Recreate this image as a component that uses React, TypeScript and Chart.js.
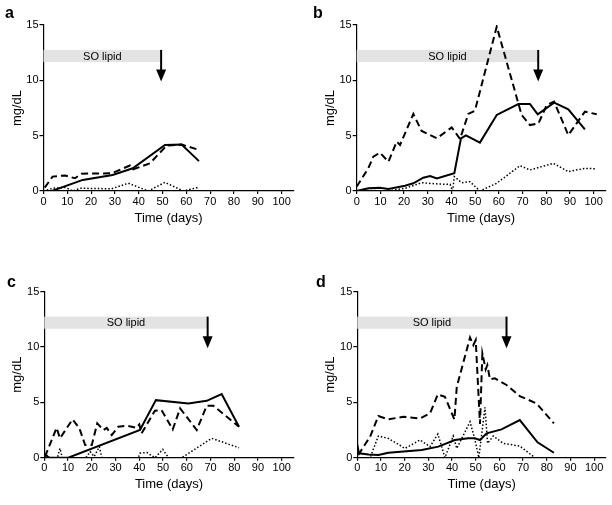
import React, { useEffect, useRef } from "react";
import { Chart, registerables } from "chart.js";

Chart.register(...registerables);

// ---- tick labels / annotations ----
const xTickValues = [0, 10, 20, 30, 40, 50, 60, 70, 80, 90, 100];
const yTickValues = [0, 5, 10, 15];
const panelLetters = ["a", "b", "c", "d"];
const soLipidLabel = "SO lipid";
const soLipidEnd = [49.4, 76.6, 68.8, 63.0];
const xTitle = "Time (days)";
const yTitle = "mg/dL";

// ---- panel a ----
const aSolidX = [0, 3.5, 16.5, 29, 37.5, 51, 58, 65.3];
const aSolidY = [0, 0, 1.0, 1.45, 2.05, 4.16, 4.2, 2.7];
const aDashX = [0.5, 3.8, 9, 13.2, 16, 28.6, 36.3, 37.7, 44.7, 51.7, 58, 65.4];
const aDashY = [0.3, 1.3, 1.4, 1.15, 1.57, 1.6, 2.3, 1.96, 2.5, 4.1, 4.2, 3.7];
const aDotX = [0, 4, 9, 12.5, 15.3, 28.6, 35.6, 44, 51, 58.7, 65];
const aDotY = [0, 0.25, 0.33, 0, 0.25, 0.2, 0.7, 0, 0.78, 0, 0.33];

// ---- panel b ----
const bSolidX = [0, 4.9, 9.8, 13.4, 20.4, 23.9, 28.1, 31, 33.8, 41.2, 44, 46.1, 52, 59.1, 68.2, 73.1, 76.4, 83.3, 89.3, 96.3];
const bSolidY = [0, 0.24, 0.3, 0.18, 0.48, 0.7, 1.2, 1.36, 1.14, 1.6, 4.76, 5.03, 4.37, 6.87, 7.86, 7.86, 6.93, 7.98, 7.38, 5.57];
const bDashX = [0, 4.9, 7, 9.8, 13.4, 16.9, 18.3, 23.9, 27.4, 33.8, 40.1, 43.6, 47.1, 49.9, 59.1, 69.6, 73.1, 76.7, 80.2, 83.3, 89.3, 96.3, 101.3];
const bDashY = [0.4, 2.05, 3.1, 3.46, 2.65, 4.46, 4.16, 6.96, 5.42, 4.76, 5.75, 4.7, 6.96, 7.26, 14.85, 6.87, 5.96, 6.1, 7.77, 8.07, 5.06, 7.17, 6.93];
const bDotX = [0, 6, 13, 20.4, 27.4, 34.5, 39.4, 40.5, 41.2, 44.3, 47.8, 52, 59.1, 68.9, 73.1, 83, 89.3, 96.3, 101.3];
const bDotY = [0, 0.05, 0, 0.24, 0.75, 0.63, 0.6, 0, 1.3, 0.75, 0.84, 0, 0.7, 2.29, 1.9, 2.5, 1.75, 2.05, 2.0];

// ---- panel c ----
const cSolidX = [0.3, 1.7, 10.1, 40.3, 47, 60.7, 68.4, 74.7, 82];
const cSolidY = [0.39, 0, 0, 2.5, 5.2, 4.9, 5.14, 5.75, 2.8];
const cDashX = [0.3, 5.2, 6.6, 11.9, 14.8, 17.2, 20, 22.3, 24.9, 26.3, 28.4, 31.2, 34.7, 38.9, 40, 41, 46.6, 49.4, 54.1, 57.2, 64.2, 68.4, 71.2, 82];
const cDashY = [0.1, 2.7, 1.75, 3.46, 2.65, 1.15, 1.15, 3.1, 2.5, 2.7, 2.05, 2.8, 2.9, 2.7, 3.0, 2.2, 4.25, 4.3, 2.56, 4.46, 2.5, 4.7, 4.7, 2.8];
const cDotX = [0.3, 2.4, 5.5, 6.6, 7.6, 17.5, 19.3, 21, 23.2, 24.2, 39.6, 40.3, 43.1, 46.6, 49.9, 52.3, 57.9, 70.5, 82];
const cDotY = [0.24, 0, 0, 0.84, 0, 0, 0.54, 0.1, 1.0, 0, 0, 0.4, 0.48, 0, 0.75, 0, 0, 1.75, 0.9];

// ---- panel d ----
const dSolidX = [0, 0.7, 4.7, 8.9, 13.1, 27.2, 34.2, 41.2, 46.8, 49.6, 51.8, 54.6, 60.9, 68.6, 76.1, 83];
const dSolidY = [1.15, 0.4, 0.3, 0.24, 0.45, 0.7, 1.0, 1.6, 1.75, 1.75, 1.6, 2.2, 2.56, 3.4, 1.39, 0.45];
const dDashX = [0.4, 5.4, 8.9, 13.1, 19.4, 26.5, 30.7, 34, 37, 41, 42, 47.6, 49, 50, 51.8, 52.8, 54.2, 54.9, 56, 58.1, 63, 68.6, 75.7, 83];
const dDashY = [0.24, 1.9, 3.77, 3.46, 3.7, 3.55, 4.0, 5.72, 5.5, 3.46, 6.4, 10.87, 10.18, 10.63, 3.04, 9.43, 7.98, 8.37, 7.08, 7.17, 6.57, 5.57, 4.9, 3.1];
const dDotX = [0, 5.4, 8.9, 13.1, 20.1, 26.5, 30.7, 34, 37, 40.5, 42, 47.6, 49.7, 51.3, 53.9, 55, 57.4, 61.6, 68.6, 75, 83];
const dDotY = [0, 0, 1.96, 1.75, 0.84, 1.6, 1.0, 2.14, 0, 1.96, 0.84, 3.25, 1.6, 0, 4.55, 1.3, 1.96, 1.3, 1.05, 0, 0];

const seriesX = [
  [aSolidX, aDashX, aDotX],
  [bSolidX, bDashX, bDotX],
  [cSolidX, cDashX, cDotX],
  [dSolidX, dDashX, dDotX],
];
const seriesY = [
  [aSolidY, aDashY, aDotY],
  [bSolidY, bDashY, bDotY],
  [cSolidY, cDashY, cDotY],
  [dSolidY, dDashY, dDotY],
];

const FONT = "'Liberation Sans', Arial, Helvetica, sans-serif";

// layout of each panel (pixels)
const panels = [
  { left: 0, top: 0, w: 306, h: 252, areaL: 43.5, areaT: 25, padR: 12.5, xH: 61, xTitlePad: 26.2, yTitlePad: 9.7, letterX: 5, letterY: 17.7 },
  { left: 306, top: 0, w: 306, h: 252, areaL: 50.7, areaT: 25, padR: 6.5, xH: 61, xTitlePad: 26.2, yTitlePad: 16.2, letterX: 7, letterY: 18 },
  { left: 0, top: 252, w: 306, h: 253, areaL: 44.3, areaT: 39.7, padR: 12.4, xH: 47.3, xTitlePad: 12.5, yTitlePad: 9.7, letterX: 7, letterY: 35 },
  { left: 306, top: 252, w: 306, h: 253, areaL: 51.3, areaT: 39.7, padR: 6, xH: 47.3, xTitlePad: 12.5, yTitlePad: 16.2, letterX: 10, letterY: 35 },
];

const styles = [
  { borderDash: [] as number[], borderWidth: 2 },
  { borderDash: [7, 4], borderWidth: 2 },
  { borderDash: [1.5, 2], borderWidth: 1.5 },
];

function Panel({ idx }: { idx: number }) {
  const ref = useRef<HTMLCanvasElement>(null);
  const p = panels[idx];
  useEffect(() => {
    const canvas = ref.current;
    if (!canvas) return;
    const end = soLipidEnd[idx];
    const annot = {
      id: "soLipid" + idx,
      beforeDatasetsDraw(chart: any) {
        const ctx = chart.ctx;
        const xs = chart.scales.x;
        const ys = chart.scales.y;
        const x0 = xs.getPixelForValue(0);
        const x1 = xs.getPixelForValue(end);
        const yTop = ys.getPixelForValue(12.75);
        const yBot = ys.getPixelForValue(11.65);
        ctx.save();
        ctx.fillStyle = "#e3e3e3";
        ctx.fillRect(x0, yTop, x1 - x0, yBot - yTop);
        ctx.fillStyle = "#000";
        ctx.font = `11px ${FONT}`;
        ctx.textAlign = "center";
        ctx.textBaseline = "middle";
        ctx.fillText(soLipidLabel, (x0 + x1) / 2, (yTop + yBot) / 2 + 0.5);
        // arrow
        const tip = ys.getPixelForValue(9.9);
        ctx.strokeStyle = "#000";
        ctx.lineWidth = 2;
        ctx.beginPath();
        ctx.moveTo(x1, yTop);
        ctx.lineTo(x1, tip - 10);
        ctx.stroke();
        ctx.beginPath();
        ctx.moveTo(x1 - 5, tip - 12);
        ctx.lineTo(x1 + 5, tip - 12);
        ctx.lineTo(x1, tip);
        ctx.closePath();
        ctx.fill();
        ctx.restore();
      },
      afterDraw(chart: any) {
        const ctx = chart.ctx;
        ctx.save();
        ctx.fillStyle = "#000";
        ctx.font = `bold 16px ${FONT}`;
        ctx.textAlign = "left";
        ctx.textBaseline = "alphabetic";
        ctx.fillText(panelLetters[idx], p.letterX, p.letterY);
        ctx.restore();
      },
    };
    const datasets = seriesX[idx].map((xs, k) => ({
      data: xs.map((x, i) => ({ x, y: seriesY[idx][k][i] })),
      borderColor: "#000",
      backgroundColor: "#000",
      borderWidth: styles[k].borderWidth,
      borderDash: styles[k].borderDash,
      pointRadius: 0,
      tension: 0,
      fill: false,
      borderJoinStyle: "miter" as const,
    }));
    const chart = new Chart(canvas, {
      type: "line",
      data: { datasets },
      plugins: [annot],
      options: {
        animation: false,
        responsive: false,
        devicePixelRatio: 1,
        layout: { padding: { left: 0, top: p.areaT, right: p.padR, bottom: 0 } },
        plugins: { legend: { display: false }, tooltip: { enabled: false } },
        scales: {
          x: {
            type: "linear",
            min: 0,
            max: 105,
            afterBuildTicks: (s: any) => {
              s.ticks = xTickValues.map((v) => ({ value: v }));
            },
            afterFit: (s: any) => {
              s.height = p.xH;
            },
            ticks: { autoSkip: false, maxRotation: 0, padding: 1, color: "#000", font: { family: FONT, size: 11 } },
            grid: { display: true, drawOnChartArea: false, drawTicks: true, tickLength: 3, color: "#000", lineWidth: 1.2 },
            border: { display: true, color: "#000", width: 1.2 },
            title: { display: true, text: xTitle, color: "#000", font: { family: FONT, size: 13 }, padding: { top: 0, bottom: p.xTitlePad } },
          },
          y: {
            type: "linear",
            min: 0,
            max: 15,
            afterBuildTicks: (s: any) => {
              s.ticks = yTickValues.map((v) => ({ value: v }));
            },
            afterFit: (s: any) => {
              s.width = p.areaL;
            },
            ticks: { padding: 1, color: "#000", font: { family: FONT, size: 11 } },
            grid: { display: true, drawOnChartArea: false, drawTicks: true, tickLength: 4, color: "#000", lineWidth: 1.2 },
            border: { display: true, color: "#000", width: 1.2 },
            title: { display: true, text: yTitle, color: "#000", font: { family: FONT, size: 13 }, padding: { top: p.yTitlePad, bottom: 0 } },
          },
        },
      },
    } as any);
    return () => chart.destroy();
  }, [idx]);
  return (
    <canvas
      ref={ref}
      width={p.w}
      height={p.h}
      style={{ position: "absolute", left: p.left, top: p.top, width: p.w, height: p.h }}
    />
  );
}

export default function App() {
  return (
    <div style={{ position: "absolute", left: 0, top: 0, width: 612, height: 505, background: "#fff", overflow: "hidden" }}>
      {[0, 1, 2, 3].map((i) => (
        <Panel key={i} idx={i} />
      ))}
    </div>
  );
}
